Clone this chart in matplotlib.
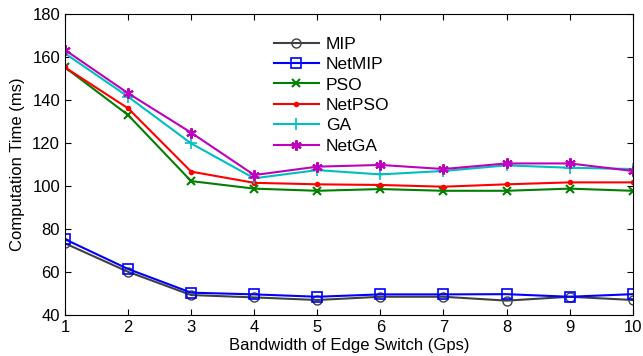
import numpy as np
from matplotlib import pyplot as plt

plt.rcParams['font.family'] = ['Liberation Sans', 'DejaVu Sans']

bandwidth = [1, 2, 3, 4, 5, 6, 7, 8, 9, 10]
mip = [73.3, 60.1, 49.3, 48.2, 47.0, 48.5, 48.5, 46.7, 48.5, 47.0]
netmip = [75.2, 61.4, 50.4, 49.6, 48.5, 49.6, 49.6, 49.7, 48.5, 49.7]
pso = [155.0, 132.9, 102.2, 98.7, 97.7, 98.5, 97.7, 97.7, 98.7, 97.7]
netpso = [155.0, 136.0, 106.6, 101.4, 100.7, 100.4, 99.6, 100.7, 101.6, 101.6]
ga = [161.5, 141.4, 119.7, 103.5, 107.3, 105.3, 106.9, 109.5, 108.4, 107.8]
netga = [163.1, 143.0, 124.7, 105.0, 108.9, 109.7, 107.8, 110.4, 110.4, 106.9]

fig = plt.figure(figsize=(6.43, 3.56), dpi=100)
ax = fig.add_axes([0.101, 0.115, 0.883, 0.847])

lw = 1.5
ax.plot(bandwidth, mip, color='#404040', lw=lw, marker='o', ms=6.5,
        mfc='none', mew=1.0, label='MIP')
ax.plot(bandwidth, netmip, color='#0000ff', lw=lw, marker='s', ms=6.5,
        mfc='none', mew=1.2, label='NetMIP')
ax.plot(bandwidth, pso, color='#008000', lw=lw, marker='x', ms=5.5,
        mew=1.5, label='PSO')
ax.plot(bandwidth, netpso, color='#ff0000', lw=lw, marker='.', ms=6,
        label='NetPSO')
ax.plot(bandwidth, ga, color='#00bfbf', lw=lw, marker='+', ms=8,
        mew=1.2, label='GA')
ax.plot(bandwidth, netga, color='#bf00bf', lw=lw, marker=(6, 2, 0), ms=7.5,
        mew=1.5, label='NetGA')

ax.set_xlim(1, 10)
ax.set_ylim(40, 180)
ax.set_xticks(bandwidth)
ax.set_yticks(np.arange(40, 181, 20))
ax.tick_params(direction='in', top=True, right=True, length=4, labelsize=12)
ax.set_xlabel('Bandwidth of Edge Switch (Gps)', fontsize=12, labelpad=2)
ax.set_ylabel('Computation Time (ms)', fontsize=12, labelpad=5)

ax.legend(loc='upper left', bbox_to_anchor=(0.34, 0.975), frameon=False,
          fontsize=12.5, handlelength=2.6, labelspacing=0.3, handletextpad=0.4)

fig.savefig('out.png', dpi=100)
